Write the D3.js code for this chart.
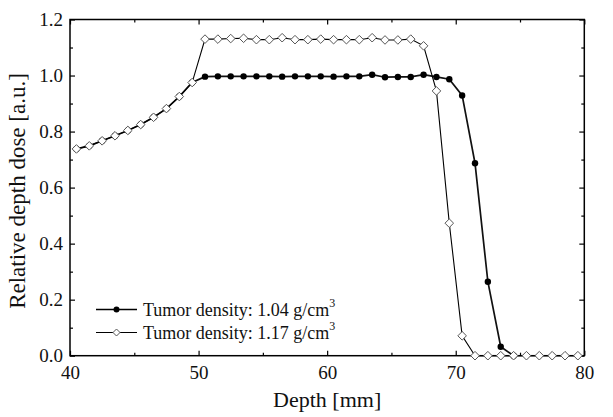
<!DOCTYPE html>
<html><head><meta charset="utf-8">
<script src="https://cdn.jsdelivr.net/npm/d3@7"></script>
<style>
html,body{margin:0;padding:0;background:#fff;}
svg{display:block;}
svg text{font-family:"Liberation Serif","Times New Roman",serif !important;}
</style></head>
<body>
<svg id="chart" width="613" height="417"></svg>
<script>
// Data
const depth104 = [40.5,41.5,42.5,43.5,44.5,45.5,46.5,47.5,48.5,49.5,50.5,51.5,52.5,53.5,54.5,55.5,56.5,57.5,58.5,59.5,60.5,61.5,62.5,63.5,64.5,65.5,66.5,67.5,68.5,69.5,70.5,71.5,72.5,73.5,74.5];
const dose104  = [0.738,0.749,0.767,0.785,0.804,0.825,0.851,0.882,0.925,0.975,0.996,0.997,0.997,0.997,0.997,0.997,0.996,0.997,0.997,0.997,0.996,0.997,0.997,1.003,0.994,0.995,0.995,1.003,0.995,0.987,0.929,0.687,0.264,0.032,0.0];
const depth117 = [40.5,41.5,42.5,43.5,44.5,45.5,46.5,47.5,48.5,49.5,50.5,51.5,52.5,53.5,54.5,55.5,56.5,57.5,58.5,59.5,60.5,61.5,62.5,63.5,64.5,65.5,66.5,67.5,68.5,69.5,70.5,71.5,72.5,73.5,74.5,75.5,76.5,77.5,78.5,79.5];
const dose117  = [0.738,0.749,0.767,0.785,0.804,0.825,0.851,0.882,0.925,0.975,1.130,1.130,1.132,1.133,1.128,1.128,1.135,1.128,1.128,1.130,1.128,1.128,1.128,1.135,1.127,1.127,1.130,1.106,0.945,0.473,0.071,0.0,0.0,0.0,0.0,0.0,0.0,0.0,0.0,0.0];
const xMajorTicks = [40,50,60,70,80];
const xMinorTicks = [45,55,65,75];
const yMajorTicks = [0,0.2,0.4,0.6,0.8,1.0,1.2];
const yMinorTicks = [0.1,0.3,0.5,0.7,0.9,1.1];
const seriesLabels = ["Tumor density: 1.04 g/cm", "Tumor density: 1.17 g/cm"];
const xTitle = "Depth [mm]";
const yTitle = "Relative depth dose [a.u.]";

const svg = d3.select("#chart");
const L = 70, R = 584.3, T = 19.5, B = 355.7;
const x = d3.scaleLinear().domain([40,80]).range([L,R]);
const y = d3.scaleLinear().domain([0,1.2]).range([B,T]);

function styleAxis(g){
  g.attr("font-family","Liberation Serif");
  g.select(".domain").remove();
  g.selectAll("line").attr("stroke","#000").attr("stroke-width",1.2);
  g.selectAll("text").style("font-family","Liberation Serif").attr("font-size",19).attr("fill","#111");
}
// bottom
svg.append("g").attr("transform",`translate(0,${B})`)
  .call(d3.axisBottom(x).tickValues(xMajorTicks).tickSizeInner(-5).tickSizeOuter(0).tickPadding(10).tickFormat(d3.format("d")))
  .call(styleAxis);
svg.append("g").attr("transform",`translate(0,${B})`)
  .call(d3.axisBottom(x).tickValues(xMinorTicks).tickSizeInner(-3).tickSizeOuter(0).tickFormat(""))
  .call(styleAxis);
// top
svg.append("g").attr("transform",`translate(0,${T})`)
  .call(d3.axisTop(x).tickValues(xMajorTicks).tickSizeInner(-5).tickSizeOuter(0).tickFormat(""))
  .call(styleAxis);
svg.append("g").attr("transform",`translate(0,${T})`)
  .call(d3.axisTop(x).tickValues(xMinorTicks).tickSizeInner(-3).tickSizeOuter(0).tickFormat(""))
  .call(styleAxis);
// left
svg.append("g").attr("transform",`translate(${L},0)`)
  .call(d3.axisLeft(y).tickValues(yMajorTicks).tickSizeInner(-5).tickSizeOuter(0).tickPadding(7).tickFormat(d3.format(".1f")))
  .call(styleAxis);
svg.append("g").attr("transform",`translate(${L},0)`)
  .call(d3.axisLeft(y).tickValues(yMinorTicks).tickSizeInner(-3).tickSizeOuter(0).tickFormat(""))
  .call(styleAxis);
// right
svg.append("g").attr("transform",`translate(${R},0)`)
  .call(d3.axisRight(y).tickValues(yMajorTicks).tickSizeInner(-5).tickSizeOuter(0).tickFormat(""))
  .call(styleAxis);
svg.append("g").attr("transform",`translate(${R},0)`)
  .call(d3.axisRight(y).tickValues(yMinorTicks).tickSizeInner(-3).tickSizeOuter(0).tickFormat(""))
  .call(styleAxis);

// frame
svg.append("rect").attr("x",L).attr("y",T).attr("width",R-L).attr("height",B-T)
  .attr("fill","none").attr("stroke","#000").attr("stroke-width",1.5);

const s1 = depth104.map((d,i)=>[d,dose104[i]]);
const s2 = depth117.map((d,i)=>[d,dose117[i]]);
const line = d3.line().x(d=>x(d[0])).y(d=>y(d[1]));

// series 1
svg.append("path").datum(s1).attr("d",line).attr("fill","none").attr("stroke","#111").attr("stroke-width",1.7);
svg.append("g").selectAll("circle").data(s1).join("circle")
  .attr("cx",d=>x(d[0])).attr("cy",d=>y(d[1])).attr("r",3.2).attr("fill","#000");
// series 2
svg.append("path").datum(s2).attr("d",line).attr("fill","none").attr("stroke","#000").attr("stroke-width",1.1);
const dia = (cx,cy,h)=>`M${cx},${cy-h}L${cx+h},${cy}L${cx},${cy+h}L${cx-h},${cy}Z`;
svg.append("g").selectAll("path").data(s2).join("path")
  .attr("d",d=>dia(x(d[0]),y(d[1]),4.3)).attr("fill","#fff").attr("stroke","#555").attr("stroke-width",1);

// legend
const lg = svg.append("g");
[0,1].forEach(i=>{
  const yy = 309.5 + i*23;
  lg.append("line").attr("x1",96).attr("x2",137).attr("y1",yy).attr("y2",yy).attr("stroke","#000").attr("stroke-width",i===0?1.7:1.1);
  if(i===0) lg.append("circle").attr("cx",116.5).attr("cy",yy).attr("r",3).attr("fill","#000");
  else lg.append("path").attr("d",dia(116.5,yy,3.5)).attr("fill","#fff").attr("stroke","#555");
  const t = lg.append("text").attr("x",143).attr("y",yy+6).attr("font-size",18).attr("fill","#111");
  t.append("tspan").text(seriesLabels[i]);
  t.append("tspan").attr("font-size",12).attr("dy",-9).text("3");
});

// titles
svg.append("text").attr("x",(L+R)/2).attr("y",407).attr("text-anchor","middle").attr("font-size",22).attr("fill","#111").text(xTitle);
svg.append("text").attr("transform",`translate(25,191) rotate(-90)`).attr("text-anchor","middle").attr("font-size",23).attr("fill","#111").text(yTitle);
</script>
</body></html>
